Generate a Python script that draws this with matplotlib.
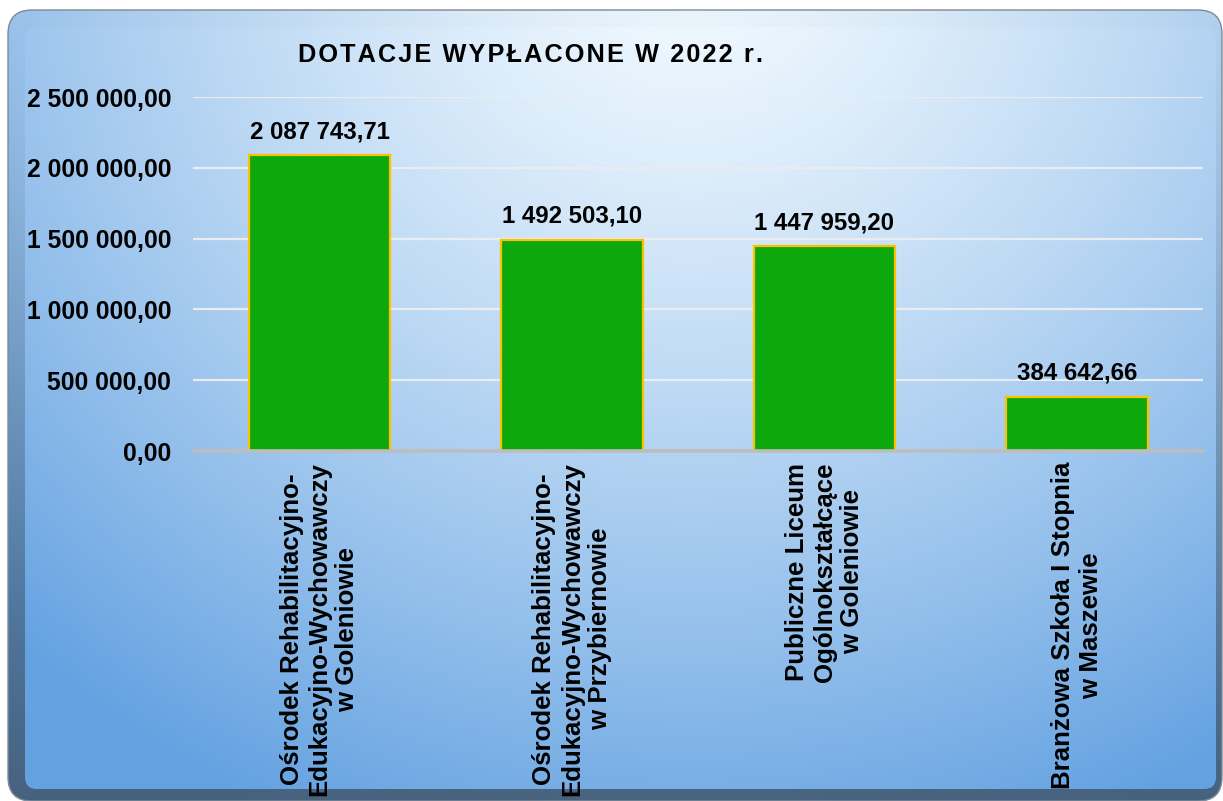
"""
Dotacje wypłacone w 2022 r. - wykres słupkowy na tle z gradientem.
Output: out.png
"""

import numpy as np
import matplotlib
matplotlib.use("Agg")
import matplotlib.pyplot as plt
from matplotlib.patches import FancyBboxPatch
from matplotlib.ticker import FuncFormatter
from matplotlib.colors import to_rgb

# ─── Dane ─────────────────────────────────────────────────────────────────────
CATEGORIES = [
    "Ośrodek Rehabilitacyjno-\nEdukacyjno-Wychowawczy\nw Goleniowie",
    "Ośrodek Rehabilitacyjno-\nEdukacyjno-Wychowawczy\nw Przybiernowie",
    "Publiczne Liceum\nOgólnokształcące\nw Goleniowie",
    "Branżowa Szkoła I Stopnia\nw Maszewie",
]
VALUES = [2087743.71, 1492503.10, 1447959.20, 384642.66]
Y_TICKS = [0, 500000, 1000000, 1500000, 2000000, 2500000]
TITLE = "DOTACJE WYPŁACONE W 2022 r."

# ─── Styl ─────────────────────────────────────────────────────────────────────
W, H = 1223, 801
FONT = ["Liberation Sans", "DejaVu Sans"]
BAR_COLOR = "#0ca80c"
BAR_EDGE = "#ffc000"
GRID_COLOR = "#e9edf2"
AXIS_COLOR = "#bdbdbd"
LIGHT = np.array(to_rgb("#f2faff"))
DARK = np.array(to_rgb("#63a1e1"))
FRAME = np.array(to_rgb("#42586f"))

plt.rcParams["font.family"] = FONT


def pl_fmt(v, _pos=None):
    return f"{v:,.2f}".replace(",", " ").replace(".", ",")


def gradient_images():
    yy, xx = np.mgrid[0:H, 0:W].astype(float)
    d = np.sqrt(((xx - 690) / 1000) ** 2 + ((yy + 50) / 950) ** 2)
    d = np.clip(d, 0, 1) ** 1.3
    inner = LIGHT[None, None, :] * (1 - d[..., None]) + DARK[None, None, :] * d[..., None]
    t = (0.02 + 0.85 * (yy / H) ** 1.4)[..., None]
    outer = inner * (1 - t) + FRAME[None, None, :] * t
    return inner, outer


fig = plt.figure(figsize=(W / 100, H / 100), dpi=100)
fig.patch.set_facecolor("white")

# ── Tło: zaokrąglona ramka z gradientem ───────────────────────────────────────
bg = fig.add_axes([0, 0, 1, 1], zorder=-1)
bg.set_xlim(0, W)
bg.set_ylim(H, 0)
bg.axis("off")
inner_img, outer_img = gradient_images()

outer_box = FancyBboxPatch((8, 10), 1214, 791, boxstyle="round,pad=0,rounding_size=24",
                           facecolor="none", edgecolor="#7d8a97", linewidth=1.0, zorder=3)
bg.add_patch(outer_box)
im_o = bg.imshow(outer_img, extent=(0, W, H, 0), zorder=1, interpolation="bilinear")
im_o.set_clip_path(outer_box)

inner_box = FancyBboxPatch((25, 27), 1191, 762, boxstyle="round,pad=0,rounding_size=12",
                           facecolor="none", edgecolor="none", zorder=0)
bg.add_patch(inner_box)
im_i = bg.imshow(inner_img, extent=(0, W, H, 0), zorder=2, interpolation="bilinear")
im_i.set_clip_path(inner_box)

# ── Wykres ────────────────────────────────────────────────────────────────────
ax = fig.add_axes([193.25 / W, 1 - 451 / H, 1010 / W, 354 / H])
ax.patch.set_alpha(0)
x = np.arange(len(VALUES))
ax.bar(x, VALUES, width=0.56, color=BAR_COLOR, edgecolor=BAR_EDGE, linewidth=1.6, zorder=3)

for xi, v in zip(x, VALUES):
    ax.annotate(pl_fmt(v), (xi, v), xytext=(0, 12), textcoords="offset points",
                ha="center", va="baseline", fontsize=17.3, fontweight="bold",
                annotation_clip=False)

ax.set_xlim(-0.5, len(VALUES) - 0.5)
ax.set_ylim(0, 2500000)
ax.set_yticks(Y_TICKS)
ax.yaxis.set_major_formatter(FuncFormatter(pl_fmt))
ax.set_xticks(x)
ax.set_xticklabels(CATEGORIES, rotation=90, ha="center", va="top",
                   multialignment="center", linespacing=1.2,
                   fontsize=18.6, fontweight="bold")
for lbl in ax.get_yticklabels():
    lbl.set_fontsize(17.8)
    lbl.set_fontweight("bold")
ax.tick_params(axis="y", length=0, pad=16)
ax.tick_params(axis="x", length=0, pad=8)

ax.grid(axis="y", color=GRID_COLOR, linewidth=1.6, zorder=0)
ax.set_axisbelow(True)
for side in ["top", "right", "left"]:
    ax.spines[side].set_visible(False)
ax.spines["bottom"].set_color(AXIS_COLOR)
ax.spines["bottom"].set_linewidth(2.6)
ax.spines["bottom"].set_zorder(4)

# ── Tytuł (z lekkim rozstrzeleniem liter) ─────────────────────────────────────
fig.text(530 / W, 1 - 62 / H, "\u200a".join(TITLE), ha="center", va="baseline",
         fontsize=18.2, fontweight="bold", family=FONT)

fig.savefig("out.png", dpi=100)
